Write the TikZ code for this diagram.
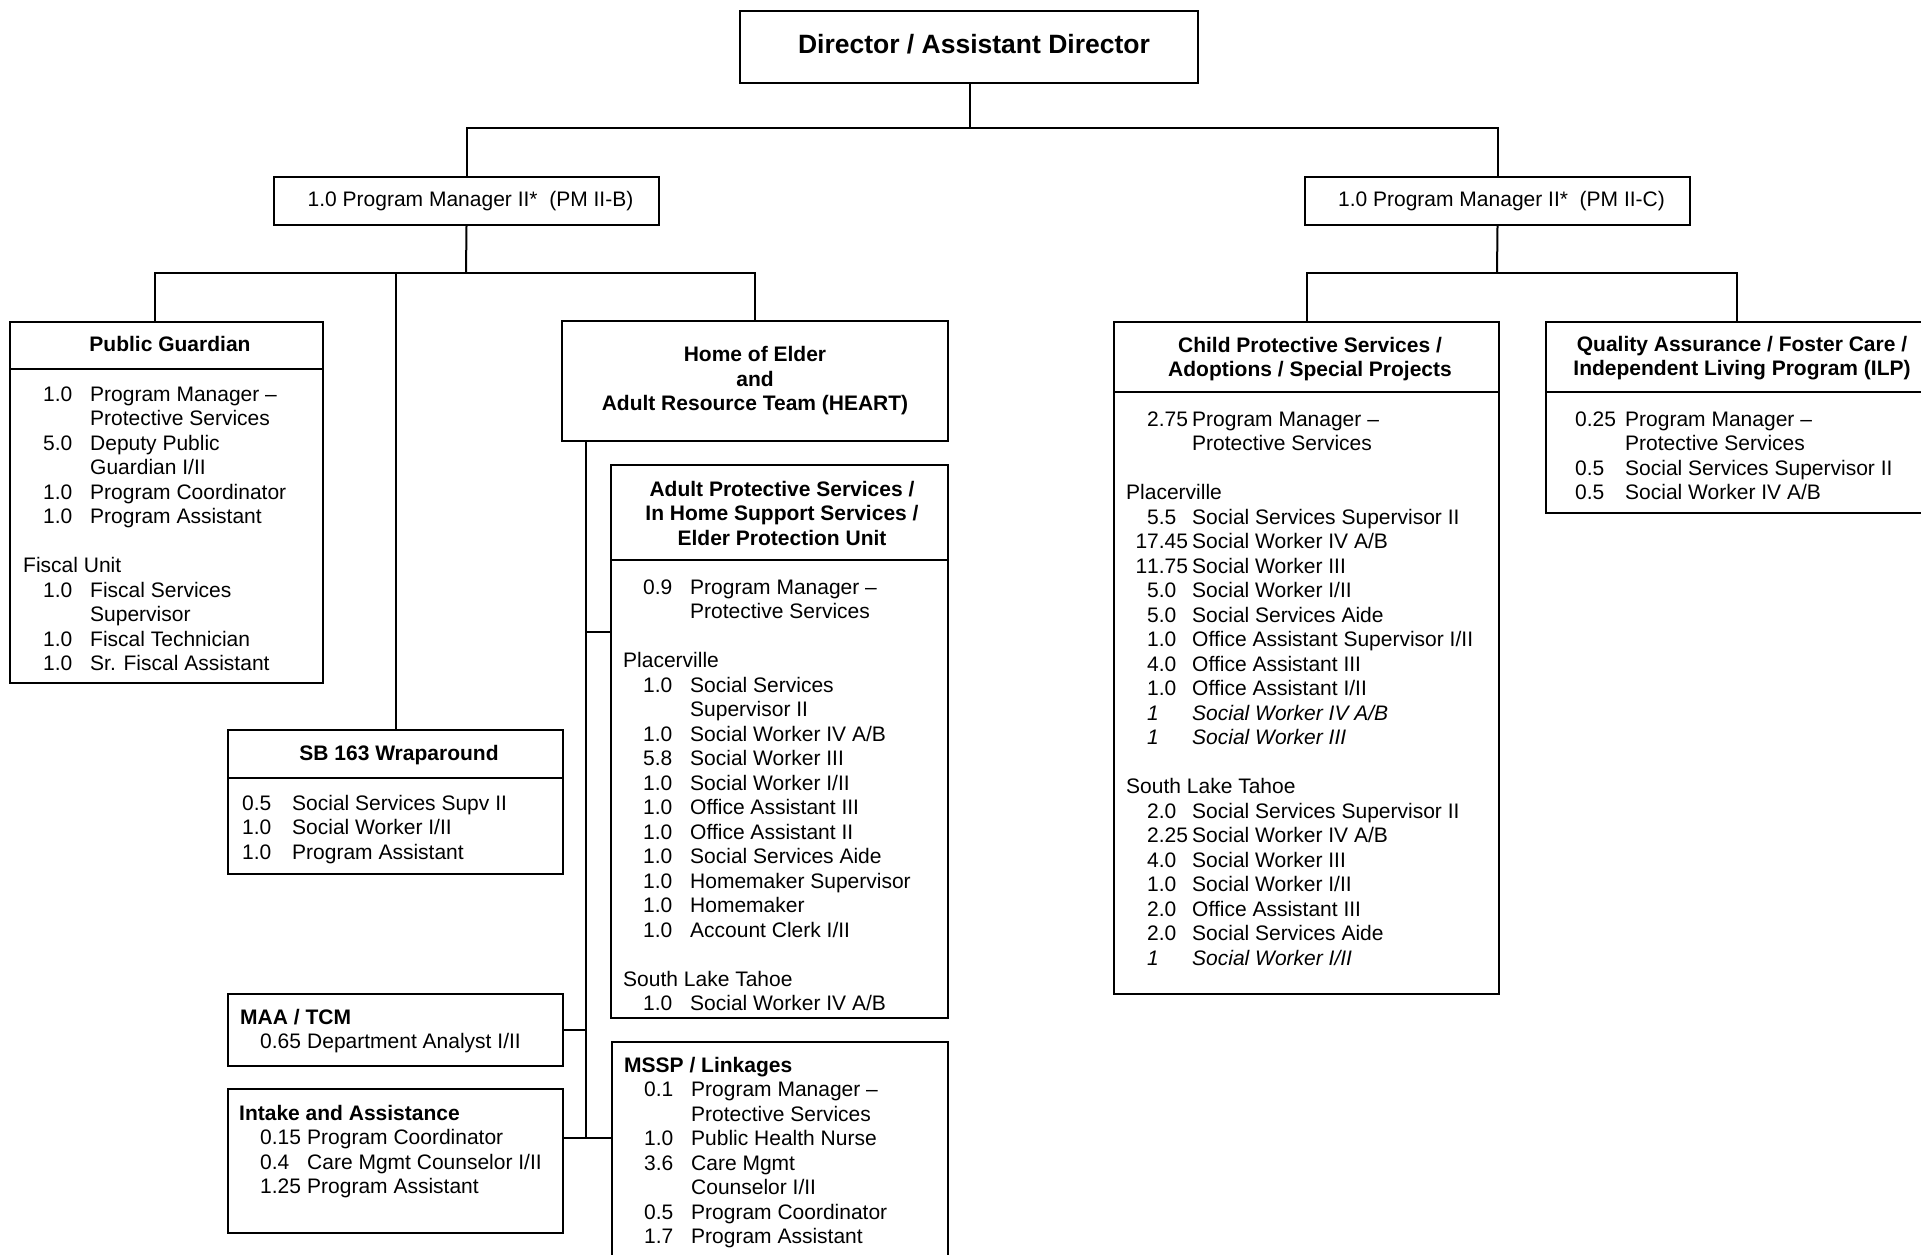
\documentclass[tikz,border=0pt]{standalone}
\usepackage{fontspec}
\setmainfont{Liberation Sans}
\newlength\numind
\newlength\numw
\newcommand{\nt}[2]{\hspace*{\numind}\makebox[\numw][l]{#1}#2}
\begin{document}
\begin{tikzpicture}[x=1pt,y=-1pt,
  box/.style={draw, line width=2pt, inner sep=0pt, anchor=north west},
  lin/.style={line width=2pt},
  body/.style={inner sep=0pt, anchor=base west, font=\fontsize{21}{24.5}\selectfont},
  head/.style={inner sep=0pt, anchor=base, font=\bfseries\fontsize{21}{24.5}\selectfont},
  plain/.style={font=\fontsize{21}{24.5}\selectfont},
  bold/.style={font=\bfseries\fontsize{21}{24.5}\selectfont}]
\fill[white] (0,0) rectangle (1921,1254);
\useasboundingbox (0,0) rectangle (1921,1254);

% ---- boxes ----
\node[box, minimum width=458pt, minimum height=72pt, font=\bfseries\fontsize{26.5}{31}\selectfont] (dir) at (739,10) {\hspace*{10pt}\raisebox{6pt}{Director / Assistant Director}};
\node[box, plain, minimum width=385pt, minimum height=48pt] (pmb) at (273,176) {\hspace*{8pt}1.0 Program Manager II*\ \ (PM II-B)};
\node[box, plain, minimum width=385pt, minimum height=48pt] (pmc) at (1304,176) {\hspace*{8pt}1.0 Program Manager II*\ \ (PM II-C)};

\node[box, minimum width=313pt, minimum height=361pt] (pg) at (9,321) {};
\node[box, bold, minimum width=386pt, minimum height=120pt, align=center] (heart) at (561,320) {Home of Elder\\and\\Adult Resource Team (HEART)};
\node[box, minimum width=337pt, minimum height=553pt] (aps) at (610,464) {};
\node[box, minimum width=335pt, minimum height=144pt] (sb) at (227,729) {};
\node[box, minimum width=335pt, minimum height=72pt] (maa) at (227,993) {};
\node[box, minimum width=335pt, minimum height=144pt] (intake) at (227,1088) {};
\node[box, minimum width=336pt, minimum height=225pt] (mssp) at (611,1041) {};
\node[box, minimum width=385pt, minimum height=672pt] (cps) at (1113,321) {};
\node[box, minimum width=381pt, minimum height=191pt] (qa) at (1545,321) {};

% ---- separators ----
\draw[lin] (pg.west |- 0,369) -- (pg.east |- 0,369);
\draw[lin] (aps.west |- 0,560) -- (aps.east |- 0,560);
\draw[lin] (sb.west |- 0,778) -- (sb.east |- 0,778);
\draw[lin] (cps.west |- 0,392) -- (cps.east |- 0,392);
\draw[lin] (qa.west |- 0,392) -- (qa.east |- 0,392);

% ---- connectors ----
\coordinate (b1) at (970,128);
\coordinate (b2) at (466,273);
\coordinate (b3) at (1497,273);
\coordinate (hj) at (586,1138);
\coordinate (aj) at (586,632);
\draw[lin] (dir.south -| b1) -- (b1);
\draw[lin] (pmb.north) |- (b1) -| (pmc.north);
\draw[lin] (pmb.south) -- (b2);
\draw[lin] ([xshift=-12pt]pg.north) |- (b2) -| (heart.north);
\draw[lin] (sb.north) -- (sb.north |- b2);
\draw[lin] (pmc.south) -- (b3);
\draw[lin] (cps.north) |- (b3) -| (qa.north);
\draw[lin] (heart.south -| hj) -- (hj);
\draw[lin] (aj) -- (aj -| aps.west);
\draw[lin] (maa.east) -- (maa.east -| hj);
\draw[lin] (hj -| intake.east) -- (hj -| mssp.west);

% ---- Public Guardian ----
\node[head] (pgh) at (170,351) {Public Guardian};
\node[body] (pgb) at (23,401) {\setlength\numind{20pt}\setlength\numw{47pt}%
\begin{tabular}[t]{@{}l@{}}
\nt{1.0}{Program Manager –}\\
\nt{}{Protective Services}\\
\nt{5.0}{Deputy Public}\\
\nt{}{Guardian I/II}\\
\nt{1.0}{Program Coordinator}\\
\nt{1.0}{Program Assistant}\\
\\
Fiscal Unit\\
\nt{1.0}{Fiscal Services}\\
\nt{}{Supervisor}\\
\nt{1.0}{Fiscal Technician}\\
\nt{1.0}{Sr. Fiscal Assistant}
\end{tabular}};

% ---- SB 163 ----
\node[head] (sbh) at (399,760) {SB 163 Wraparound};
\node[body] (sbb) at (242,810) {\setlength\numind{0pt}\setlength\numw{50pt}%
\begin{tabular}[t]{@{}l@{}}
\nt{0.5}{Social Services Supv II}\\
\nt{1.0}{Social Worker I/II}\\
\nt{1.0}{Program Assistant}
\end{tabular}};

% ---- MAA / TCM ----
\node[body] (maab) at (240,1024) {\setlength\numind{20pt}\setlength\numw{47pt}%
\begin{tabular}[t]{@{}l@{}}
\textbf{MAA / TCM}\\
\nt{0.65}{Department Analyst I/II}
\end{tabular}};

% ---- Intake ----
\node[body] (intb) at (239,1120) {\setlength\numind{21pt}\setlength\numw{47pt}%
\begin{tabular}[t]{@{}l@{}}
\textbf{Intake and Assistance}\\
\nt{0.15}{Program Coordinator}\\
\nt{0.4}{Care Mgmt Counselor I/II}\\
\nt{1.25}{Program Assistant}
\end{tabular}};

% ---- APS ----
\node[head] (apsh) at (782,496) {\begin{tabular}[t]{@{}c@{}}Adult Protective Services /\\In Home Support Services /\\Elder Protection Unit\end{tabular}};
\node[body] (apsb) at (623,594) {\setlength\numind{20pt}\setlength\numw{47pt}%
\begin{tabular}[t]{@{}l@{}}
\nt{0.9}{Program Manager –}\\
\nt{}{Protective Services}\\
\\
Placerville\\
\nt{1.0}{Social Services}\\
\nt{}{Supervisor II}\\
\nt{1.0}{Social Worker IV A/B}\\
\nt{5.8}{Social Worker III}\\
\nt{1.0}{Social Worker I/II}\\
\nt{1.0}{Office Assistant III}\\
\nt{1.0}{Office Assistant II}\\
\nt{1.0}{Social Services Aide}\\
\nt{1.0}{Homemaker Supervisor}\\
\nt{1.0}{Homemaker}\\
\nt{1.0}{Account Clerk I/II}\\
\\
South Lake Tahoe\\
\nt{1.0}{Social Worker IV A/B}
\end{tabular}};

% ---- MSSP ----
\node[body] (msspb) at (624,1072) {\setlength\numind{20pt}\setlength\numw{47pt}%
\begin{tabular}[t]{@{}l@{}}
\textbf{MSSP / Linkages}\\
\nt{0.1}{Program Manager –}\\
\nt{}{Protective Services}\\
\nt{1.0}{Public Health Nurse}\\
\nt{3.6}{Care Mgmt}\\
\nt{}{Counselor I/II}\\
\nt{0.5}{Program Coordinator}\\
\nt{1.7}{Program Assistant}
\end{tabular}};

% ---- CPS ----
\node[head] (cpsh) at (1310,352) {\begin{tabular}[t]{@{}c@{}}Child Protective Services /\\Adoptions / Special Projects\end{tabular}};
\node[body] (cpsb) at (1126,426) {\setlength\numind{21pt}\setlength\numw{45pt}%
\begin{tabular}[t]{@{}l@{}}
\nt{2.75}{Program Manager –}\\
\nt{}{Protective Services}\\
\\
Placerville\\
\nt{5.5}{Social Services Supervisor II}\\
\nt{\llap{1}7.45}{Social Worker IV A/B}\\
\nt{\llap{1}1.75}{Social Worker III}\\
\nt{5.0}{Social Worker I/II}\\
\nt{5.0}{Social Services Aide}\\
\nt{1.0}{Office Assistant Supervisor I/II}\\
\nt{4.0}{Office Assistant III}\\
\nt{1.0}{Office Assistant I/II}\\
\nt{\itshape 1}{\itshape Social Worker IV A/B}\\
\nt{\itshape 1}{\itshape Social Worker III}\\
\\
South Lake Tahoe\\
\nt{2.0}{Social Services Supervisor II}\\
\nt{2.25}{Social Worker IV A/B}\\
\nt{4.0}{Social Worker III}\\
\nt{1.0}{Social Worker I/II}\\
\nt{2.0}{Office Assistant III}\\
\nt{2.0}{Social Services Aide}\\
\nt{\itshape 1}{\itshape Social Worker I/II}
\end{tabular}};

% ---- QA ----
\node[head] (qah) at (1742,351) {\begin{tabular}[t]{@{}c@{}}Quality Assurance / Foster Care /\\Independent Living Program (ILP)\end{tabular}};
\node[body] (qab) at (1575,426) {\setlength\numind{0pt}\setlength\numw{50pt}%
\begin{tabular}[t]{@{}l@{}}
\nt{0.25}{Program Manager –}\\
\nt{}{Protective Services}\\
\nt{0.5}{Social Services Supervisor II}\\
\nt{0.5}{Social Worker IV A/B}
\end{tabular}};
\end{tikzpicture}
\end{document}
